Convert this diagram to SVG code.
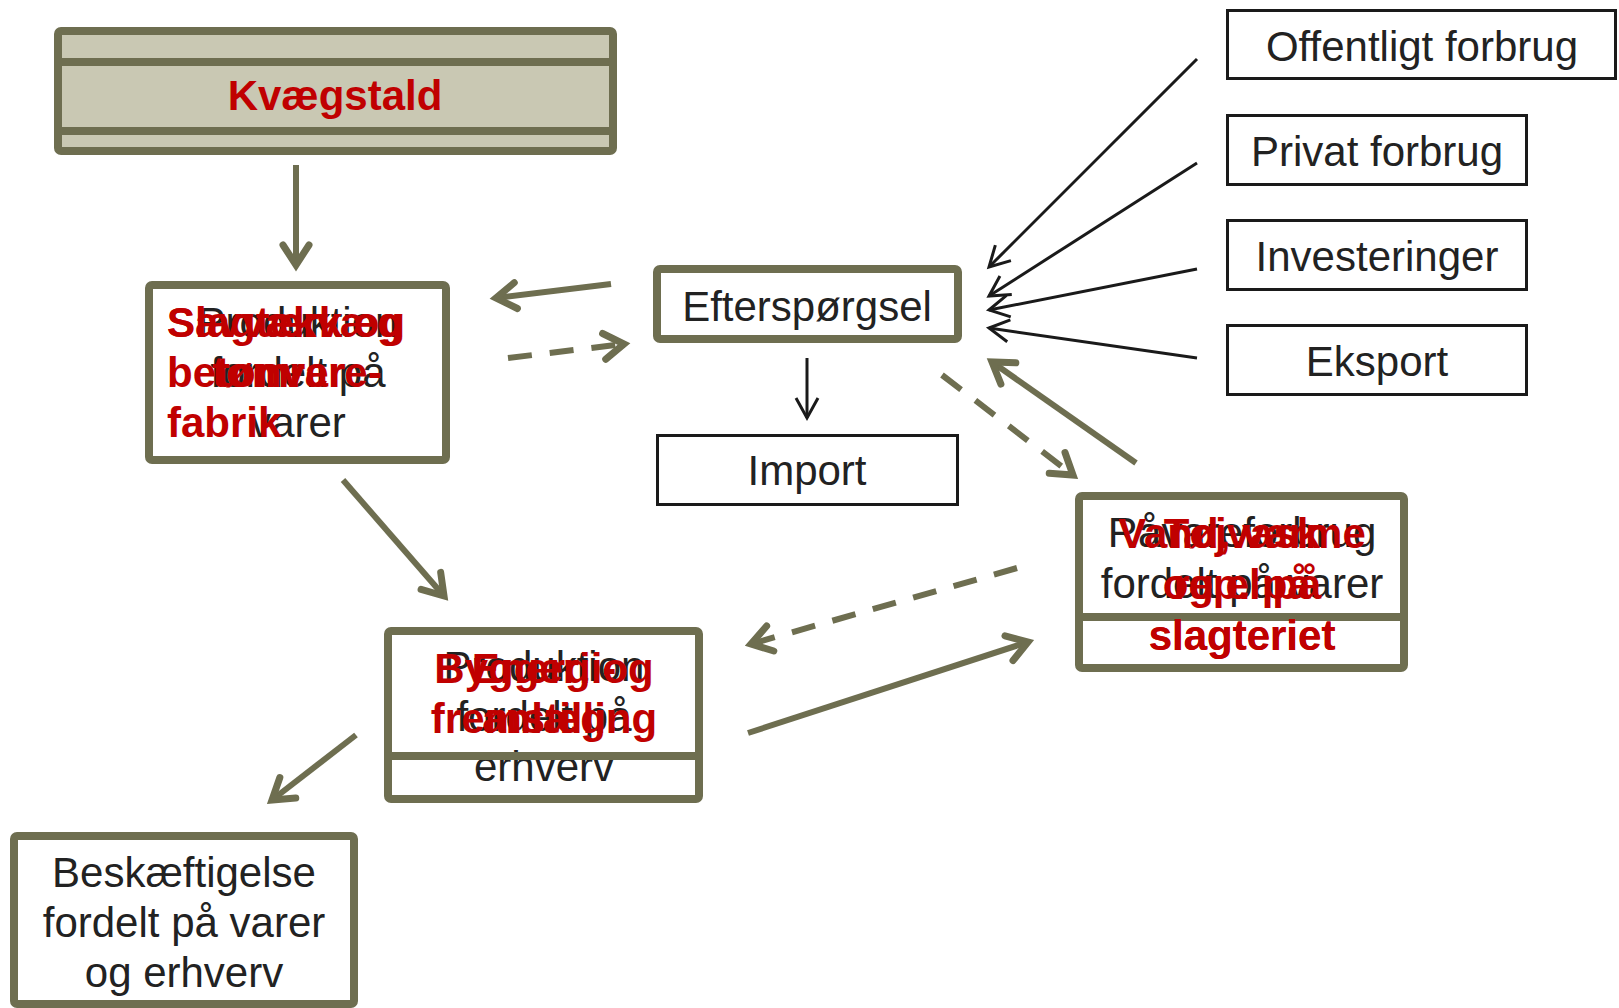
<svg xmlns="http://www.w3.org/2000/svg" width="1619" height="1008" viewBox="0 0 1619 1008">
<defs>
<style>
.ob{fill:#fff;stroke:#6E6E50;stroke-width:8;stroke-linejoin:round}
.kb{fill:#fff;stroke:#1a1a1a;stroke-width:3}
.tb{font-family:"Liberation Sans",Arial,sans-serif;font-size:42px;fill:#222}
.tr{font-family:"Liberation Sans",Arial,sans-serif;font-size:42px;font-weight:bold;fill:#C00000}
.oc{fill:none;stroke:#6E6E50;stroke-width:6;marker-end:url(#ah)}
.od{fill:none;stroke:#6E6E50;stroke-width:6;stroke-dasharray:24 18;marker-end:url(#ah)}
.kc{fill:none;stroke:#1a1a1a;stroke-width:3;marker-end:url(#kh)}
</style>
<marker id="ah" markerUnits="userSpaceOnUse" markerWidth="40" markerHeight="40" viewBox="-30 -20 40 40" refX="0" refY="0" orient="auto">
<path d="M-20,-13 L0,0 L-20,13" fill="none" stroke="#6E6E50" stroke-width="7" stroke-linecap="round" stroke-linejoin="miter" stroke-dasharray="none"/>
</marker>
<marker id="kh" markerUnits="userSpaceOnUse" markerWidth="40" markerHeight="40" viewBox="-30 -20 40 40" refX="0" refY="0" orient="auto">
<path d="M-20,-11 L0,0 L-20,11" fill="none" stroke="#1a1a1a" stroke-width="3" stroke-dasharray="none"/>
</marker>
</defs>

<g id="connectors">
<line class="oc" x1="296" y1="165" x2="296" y2="265"/>
<line class="oc" x1="611" y1="284" x2="496" y2="298"/>
<line class="od" x1="508" y1="358" x2="624" y2="344"/>
<line class="oc" x1="343" y1="480" x2="444" y2="596"/>
<line class="oc" x1="356" y1="735" x2="272" y2="800"/>
<line class="od" x1="1017" y1="568" x2="751" y2="644"/>
<line class="oc" x1="748" y1="733" x2="1028" y2="642"/>
<line class="od" x1="942" y1="375" x2="1073" y2="475"/>
<line class="oc" x1="1136" y1="463" x2="992" y2="362"/>
<line class="kc" x1="807" y1="358" x2="807" y2="418"/>
<line class="kc" x1="1197" y1="59" x2="989" y2="267"/>
<line class="kc" x1="1197" y1="163" x2="989" y2="296"/>
<line class="kc" x1="1197" y1="269" x2="989" y2="310"/>
<line class="kc" x1="1197" y1="358" x2="989" y2="328"/>
</g>

<g id="kvaegstald">
<rect x="58" y="31" width="555" height="120" rx="3" fill="#C9C8B3" stroke="#6E6E50" stroke-width="8"/>
<rect x="58" y="62" width="555" height="69" fill="#C9C8B3" stroke="#6E6E50" stroke-width="8"/>
<text class="tr" x="335" y="110" text-anchor="middle">Kvægstald</text>
</g>

<g id="produktion-varer">
<rect class="ob" x="149" y="285" width="297" height="175" rx="3"/>
<text class="tb" x="298" text-anchor="middle"><tspan x="298" y="337">Produktion</tspan><tspan x="298" y="387">fordelt på</tspan><tspan x="298" y="437">varer</tspan></text>
<text class="tr" x="167"><tspan x="167" y="337">Savværk og</tspan><tspan x="167" y="387">betonvare-</tspan><tspan x="167" y="437">fabrik</tspan></text>
<text class="tr" x="167"><tspan x="167" y="337">Slagtekvæg</tspan></text>
<text class="tr" x="212"><tspan x="212" y="387">tømrer</tspan></text>
</g>

<g id="efterspoergsel">
<rect class="ob" x="657" y="269" width="301" height="70" rx="3"/>
<text class="tb" x="807" y="321" text-anchor="middle">Efterspørgsel</text>
</g>

<g id="import">
<rect class="kb" x="657.5" y="435.5" width="300" height="69"/>
<text class="tb" x="807" y="485" text-anchor="middle">Import</text>
</g>

<g id="offentligt-forbrug">
<rect class="kb" x="1227.5" y="10.5" width="388" height="68"/>
<text class="tb" x="1422" y="61" text-anchor="middle">Offentligt forbrug</text>
</g>
<g id="privat-forbrug">
<rect class="kb" x="1227.5" y="115.5" width="299" height="69"/>
<text class="tb" x="1377" y="166" text-anchor="middle">Privat forbrug</text>
</g>
<g id="investeringer">
<rect class="kb" x="1227.5" y="220.5" width="299" height="69"/>
<text class="tb" x="1377" y="271" text-anchor="middle">Investeringer</text>
</g>
<g id="eksport">
<rect class="kb" x="1227.5" y="325.5" width="299" height="69"/>
<text class="tb" x="1377" y="376" text-anchor="middle">Eksport</text>
</g>

<g id="produktion-erhverv">
<rect class="ob" x="388" y="631" width="311" height="168" rx="3"/>
<text class="tb" text-anchor="middle"><tspan x="544" y="681">Produktion</tspan><tspan x="544" y="731">fordelt på</tspan><tspan x="544" y="781">erhverv</tspan></text>
<line x1="388" y1="756" x2="699" y2="756" stroke="#6E6E50" stroke-width="8"/>
<text class="tr" text-anchor="middle"><tspan x="544" y="683">Byggeri og</tspan><tspan x="544" y="733">anlæg</tspan></text>
<text class="tr" text-anchor="middle"><tspan x="544" y="683">Energi-</tspan><tspan x="544" y="733">fremstilling</tspan></text>
</g>

<g id="raavareforbrug">
<rect class="ob" x="1079" y="496" width="325" height="172" rx="3"/>
<text class="tb" text-anchor="middle"><tspan x="1242" y="547">Råvareforbrug</tspan><tspan x="1242" y="598">fordelt på varer</tspan></text>
<line x1="1079" y1="617" x2="1404" y2="617" stroke="#6E6E50" stroke-width="8"/>
<text class="tr" text-anchor="middle"><tspan x="1242" y="548">Vand, varme</tspan><tspan x="1242" y="599">og el på</tspan><tspan x="1242" y="650">slagteriet</tspan></text>
<text class="tr" text-anchor="middle"><tspan x="1242" y="548">Tøjvask</tspan><tspan x="1242" y="599">rep. på</tspan><tspan x="1242" y="650">slagteriet</tspan></text>
</g>

<g id="beskaeftigelse">
<rect class="ob" x="14" y="836" width="340" height="168" rx="3"/>
<text class="tb" text-anchor="middle"><tspan x="184" y="887">Beskæftigelse</tspan><tspan x="184" y="937">fordelt på varer</tspan><tspan x="184" y="987">og erhverv</tspan></text>
</g>
</svg>
